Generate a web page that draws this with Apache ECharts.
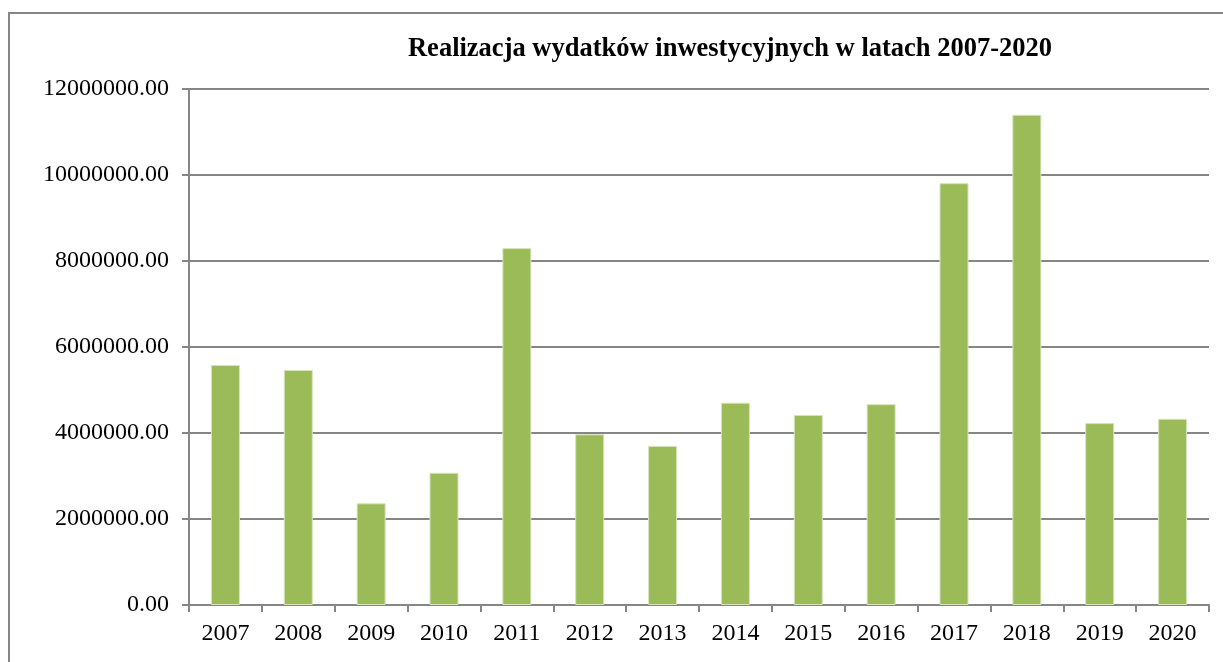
<!DOCTYPE html>
<html>
<head>
<meta charset="utf-8">
<script src="https://cdn.jsdelivr.net/npm/echarts@6/dist/echarts.min.js"></script>
<style>
  html, body { margin: 0; padding: 0; background: #fff; }
  #chart { width: 1223px; height: 662px; }
</style>
</head>
<body>
<div id="chart"></div>
<script>
// dane z wykresu
var years = ['2007', '2008', '2009', '2010', '2011', '2012', '2013', '2014', '2015', '2016', '2017', '2018', '2019', '2020'];
var wydatki = [5580000, 5465000, 2365000, 3075000, 8300000, 3970000, 3700000, 4705000, 4420000, 4670000, 9810000, 11400000, 4230000, 4330000];
var yMax = 12000000;
var yStep = 2000000;

var chart = echarts.init(document.getElementById('chart'));
var serif = '"Liberation Serif", "DejaVu Serif", serif';

var option = {
    animation: false,
    title: {
        text: 'Realizacja wydatków inwestycyjnych w latach 2007-2020',
        left: 725,
        top: 31,
        textAlign: 'center',
        textStyle: { fontFamily: serif, fontSize: 26.5, fontWeight: 'bold', color: '#000' }
    },
    graphic: [{
        type: 'rect',
        shape: { x: 9, y: 13, width: 1300, height: 700 },
        style: { fill: 'none', stroke: '#868686', lineWidth: 2 }
    }],
    grid: { left: 189, top: 89, right: 14, bottom: 57 },
    xAxis: {
        type: 'category',
        data: years,
        axisLine: { lineStyle: { color: '#868686', width: 2 } },
        axisTick: { show: true, length: 7, lineStyle: { color: '#868686', width: 2 } },
        axisLabel: { fontFamily: serif, fontSize: 24, color: '#000', margin: 17 }
    },
    yAxis: {
        type: 'value',
        min: 0,
        max: yMax,
        interval: yStep,
        axisLine: { show: true, lineStyle: { color: '#868686', width: 2 } },
        axisTick: { show: true, length: 7, lineStyle: { color: '#868686', width: 2 } },
        axisLabel: {
            fontFamily: serif, fontSize: 24, color: '#000', margin: 20,
            formatter: function (v) { return v.toFixed(2); }
        },
        splitLine: { lineStyle: { color: '#868686', width: 2 } }
    },
    series: [{
        type: 'bar',
        data: wydatki,
        barWidth: 29,
        itemStyle: { color: '#9bbb59', borderColor: '#d7e4bd', borderWidth: 1 }
    }]
};
chart.setOption(option);
</script>
</body>
</html>
